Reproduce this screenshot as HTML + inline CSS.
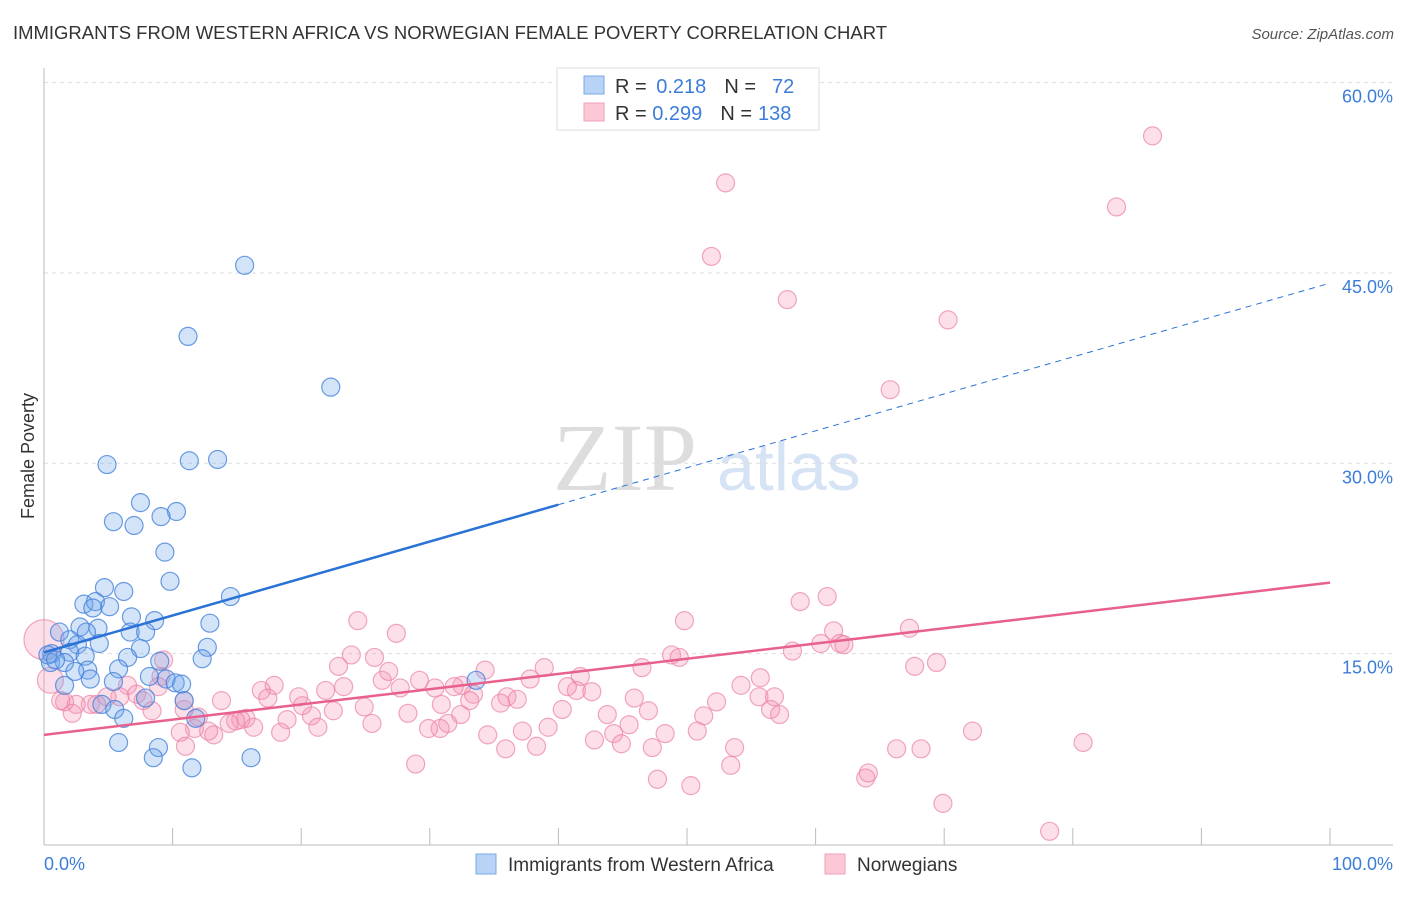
<!DOCTYPE html>
<html><head><meta charset="utf-8"><style>
body{margin:0;background:#fff;font-family:"Liberation Sans",sans-serif}
</style></head><body>
<svg id="c" width="1406" height="892" xmlns="http://www.w3.org/2000/svg" font-family="Liberation Sans, sans-serif">
<text x="13" y="39" font-size="18.4" fill="#333" textLength="874" lengthAdjust="spacingAndGlyphs">IMMIGRANTS FROM WESTERN AFRICA VS NORWEGIAN FEMALE POVERTY CORRELATION CHART</text>
<text x="1394" y="39" font-size="15" fill="#555" text-anchor="end" font-style="italic">Source: ZipAtlas.com</text>
<text transform="translate(34,456) rotate(-90)" font-size="18" fill="#333" text-anchor="middle">Female Poverty</text>
<text x="553" y="490" font-size="96" fill="#ddd" font-family="Liberation Serif, serif">ZIP</text>
<text x="717" y="490" font-size="68" fill="#d5e3f5">atlas</text>
<g id="grid"></g><g id="pts"></g><g id="lines"></g>
<g>
<rect x="557" y="68" width="262" height="62" fill="#fff" stroke="#ddd"/>
<rect x="584" y="76" width="20" height="18" fill="#b8d3f5" stroke="#7aa8e8"/>
<rect x="584" y="103" width="20" height="18" fill="#fcc8d6" stroke="#f0a0b8"/>
<text x="615" y="93" font-size="20" fill="#333">R = <tspan fill="#3b7dd8" dx="4">0.218</tspan><tspan dx="18" fill="#333">N =</tspan><tspan dx="16" fill="#3b7dd8">72</tspan></text>
<text x="615" y="120" font-size="20" fill="#333">R = <tspan fill="#3b7dd8">0.299</tspan><tspan dx="18" fill="#333">N =</tspan><tspan dx="6" fill="#3b7dd8">138</tspan></text>
</g>
<g>
<rect x="476" y="854" width="20" height="20" fill="#b8d3f5" stroke="#7aa8e8"/>
<text x="508" y="871" font-size="19" fill="#333">Immigrants from Western Africa</text>
<rect x="825" y="854" width="20" height="20" fill="#fcc8d6" stroke="#f0a0b8"/>
<text x="857" y="871" font-size="19" fill="#333">Norwegians</text>
</g>
<text x="44" y="870" font-size="18" fill="#3b7dd8">0.0%</text>
<text x="1393" y="870" font-size="18" fill="#3b7dd8" text-anchor="end">100.0%</text>
</svg>
<script>
const yTicks=[15,30,45,60];
const yTickLabels=["15.0%","30.0%","45.0%","60.0%"];
const xTicks=[0,10,20,30,40,50,60,70,80,90,100];
const blueX=[15.6,11.2,22.3,4.9,11.3,13.5,7.5,5.4,10.3,9.1,7.0,9.4,9.8,14.5,4.7,6.2,3.1,4.0,5.1,3.8,6.8,8.6,12.9,2.8,4.2,1.2,3.3,6.7,7.9,2.0,4.3,2.6,7.5,12.7,0.6,2.0,3.2,6.5,12.3,9.0,0.5,1.6,3.4,5.8,2.4,8.2,9.5,5.4,3.6,10.2,10.7,33.6,1.6,7.9,4.5,10.9,5.5,6.2,11.8,5.8,8.9,8.5,16.1,11.5,0.3,0.9];
const blueY=[45.6,40.0,36.0,29.9,30.2,30.3,26.9,25.4,26.2,25.8,25.1,23.0,20.7,19.5,20.2,19.9,18.9,19.1,18.7,18.6,17.9,17.6,17.4,17.1,17.0,16.7,16.7,16.7,16.7,16.1,15.8,15.7,15.4,15.5,15.0,15.1,14.8,14.7,14.6,14.4,14.3,14.3,13.7,13.8,13.6,13.2,13.0,12.8,13.0,12.7,12.6,12.9,12.5,11.5,11.0,11.3,10.6,9.9,9.9,8.0,7.6,6.8,6.8,6.0,14.9,14.5];
const pinkX=[86.2,53.0,83.4,51.9,57.8,70.3,65.8,78.2,69.9,63.9,64.1,47.7,50.3,53.4,66.3,68.2,80.8,72.2,53.7,49.8,58.8,60.9,61.4,61.9,62.2,67.3,69.4,67.7,58.2,60.4,55.7,54.2,55.6,56.8,56.5,57.2,52.3,51.3,50.8,46.5,48.8,49.4,45.9,47.0,45.5,43.8,44.3,42.8,44.9,47.3,48.3,41.7,41.4,42.6,40.7,40.3,38.9,37.8,39.2,38.3,37.2,36.0,36.8,35.5,34.3,33.4,33.1,32.5,31.9,30.9,32.4,31.4,30.8,29.9,34.5,35.9,28.9,28.3,29.2,30.4,27.7,26.3,26.8,25.7,24.4,23.9,22.9,23.3,21.9,25.5,27.4,24.9,22.5,20.8,21.3,19.8,20.1,18.9,18.4,17.9,16.9,17.4,15.7,15.3,14.9,16.3,14.4,13.8,13.2,12.8,12.0,10.9,11.7,10.6,11.0,9.3,9.1,8.9,6.5,7.2,7.7,5.9,4.9,8.4,3.6,4.1,2.5,1.6,2.2,1.3,10.9,0,0.5];
const pinkY=[55.8,52.1,50.2,46.3,42.9,41.3,35.8,1.0,3.2,5.2,5.6,5.1,4.6,6.2,7.5,7.5,8.0,8.9,7.6,17.6,19.1,19.5,16.8,15.8,15.7,17.0,14.3,14.0,15.2,15.8,13.1,12.5,11.6,11.6,10.6,10.2,11.2,10.1,8.9,13.9,14.9,14.7,11.5,10.5,9.4,10.2,8.7,8.2,7.9,7.6,8.7,13.2,12.1,12.0,12.4,10.6,13.9,13.0,9.2,7.7,8.9,11.6,11.4,11.1,13.7,11.8,11.3,12.5,12.4,11.0,10.2,9.5,9.1,9.1,8.6,7.5,6.3,10.3,12.9,12.3,12.3,12.9,13.6,14.7,17.6,14.9,14.0,12.4,12.1,9.5,16.6,10.8,10.5,10.1,9.2,11.6,10.9,9.8,8.8,12.5,12.1,11.5,9.9,9.8,9.7,9.2,9.5,11.3,8.6,8.9,10.0,10.6,9.1,8.8,7.7,14.5,13.2,12.4,12.5,11.8,11.3,11.6,11.6,10.5,11.0,11.0,11.0,11.2,10.3,11.3,11.3,16.1,12.9];
const blueLine=[15.1,44.2]; const pinkLine=[8.6,20.6]; const blueSolidEnd=40;
const NS="http://www.w3.org/2000/svg";
const X=v=>44+v*12.86, Y=v=>844-v*12.69;
function mk(t,a,p){const e=document.createElementNS(NS,t);for(const k in a)e.setAttribute(k,a[k]);p.appendChild(e);return e;}
const g=document.getElementById('grid');
yTicks.forEach((t,i)=>{
 const l=mk('line',{x1:44,x2:1393,y1:Y(t),y2:Y(t),stroke:'#ddd','stroke-dasharray':'4,4'},g);
 
 
 const tx=mk('text',{x:1393,y:Y(t)+20,'font-size':18,fill:'#3b7dd8','text-anchor':'end'},g);
 tx.textContent=yTickLabels[i];
 
 
});
let ax=mk('line',{x1:44,x2:1393,y1:845,y2:845,stroke:'#bbb'},g);


let ay=mk('line',{x1:44,x2:44,y1:68,y2:845,stroke:'#bbb'},g);


xTicks.forEach(t=>{const l=mk('line',{x1:X(t),x2:X(t),y1:828,y2:845,stroke:'#bbb'},g);
 
 });
const p=document.getElementById('pts');
pinkX.forEach((x,i)=>{const r=(x===0)?20:(i===pinkX.length-1?13:9);
 const c=mk('circle',{cx:X(x),cy:Y(pinkY[i]),r:r,fill:'rgba(245,150,180,0.3)',stroke:'rgba(235,130,165,0.7)','stroke-width':1.2},p);
 
 });
blueX.forEach((x,i)=>{const c=mk('circle',{cx:X(x),cy:Y(blueY[i]),r:9,fill:'rgba(110,165,235,0.3)',stroke:'rgba(70,130,220,0.8)','stroke-width':1.2},p);
 
 });
const L=document.getElementById('lines');
const by=x=>blueLine[0]+(blueLine[1]-blueLine[0])*x/100;
let b1=mk('line',{x1:X(0),y1:Y(by(0)),x2:X(blueSolidEnd),y2:Y(by(blueSolidEnd)),stroke:'#2a72d6','stroke-width':2.5},L);


let b2=mk('line',{x1:X(blueSolidEnd),y1:Y(by(blueSolidEnd)),x2:X(100),y2:Y(by(100)),stroke:'#2a72d6','stroke-width':1,'stroke-dasharray':'6,5'},L);


let p1=mk('line',{x1:X(0),y1:Y(pinkLine[0]),x2:X(100),y2:Y(pinkLine[1]),stroke:'#e8608c','stroke-width':2.5},L);


</script>
</body></html>
